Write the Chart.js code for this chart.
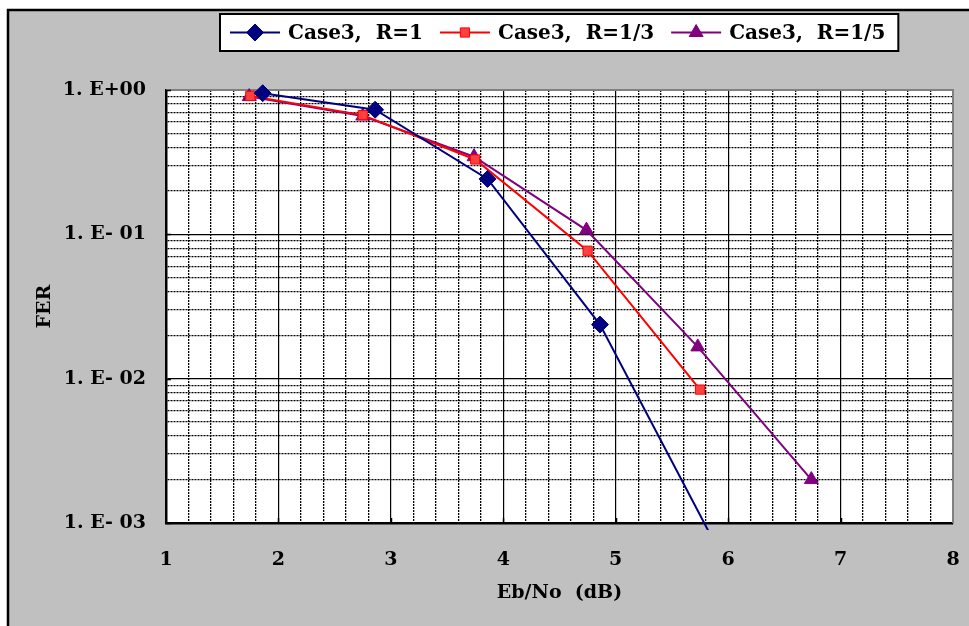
<!DOCTYPE html>
<html>
<head>
<meta charset="utf-8">
<title>FER vs Eb/No</title>
<script src="https://cdn.jsdelivr.net/npm/chart.js"></script>
<style>
  html, body { margin: 0; padding: 0; background: #fff; }
  #wrap { width: 969px; height: 626px; position: relative; }
</style>
</head>
<body>
<div id="wrap"><canvas id="ferChart"></canvas></div>
<script>
// Eb/No (dB) of each measured point
const ebnoR1 = [1.86, 2.86, 3.86, 4.86, 5.86];
const ebnoR13 = [1.75, 2.75, 3.75, 4.75, 5.75];
const ebnoR15 = [1.74, 2.75, 3.74, 4.74, 5.73, 6.74];

// FER
const ferR1 = [0.95, 0.73, 0.242, 0.0237, 0.00078];
const ferR13 = [0.91, 0.67, 0.33, 0.077, 0.0084];
const ferR15 = [0.90, 0.66, 0.345, 0.107, 0.0166, 0.0020];

const seriesLabels = ['Case3,  R=1', 'Case3,  R=1/3', 'Case3,  R=1/5'];

// axis ticks
const xMin = 1, xMax = 8, xMinorStep = 0.2;
const yDecades = [1, 0.1, 0.01, 0.001];
const yDecadeLabels = ['1. E+00', '1. E- 01', '1. E- 02', '1. E- 03'];
const yMantissas = [1, 2, 3, 4, 5, 6, 7, 8, 9];

const FONT = '"DejaVu Serif", "Liberation Serif", serif';
Chart.defaults.font.family = FONT;
Chart.defaults.color = '#000';

const toPoints = (xs, ys) => xs.map((x, i) => ({ x: x, y: ys[i] }));

const isDecade = v => Math.abs(Math.log10(v) - Math.round(Math.log10(v))) < 1e-9;
const isWhole = v => Math.abs(v - Math.round(v)) < 1e-9;

// background, frame, plot border and the boxed legend
const framePlugin = {
  id: 'frame',
  beforeDraw(chart) {
    const { ctx, width, height, chartArea: a } = chart;
    ctx.save();
    ctx.fillStyle = '#fff';
    ctx.fillRect(0, 0, width, height);
    ctx.fillStyle = '#c0c0c0';
    ctx.fillRect(8, 10, width - 8, height - 10);
    ctx.strokeStyle = '#000';
    ctx.lineWidth = 2.5;
    ctx.beginPath();
    ctx.moveTo(width, 10);
    ctx.lineTo(8, 10);
    ctx.lineTo(8, height);
    ctx.stroke();
    ctx.fillStyle = '#fff';
    ctx.fillRect(a.left, a.top, a.right - a.left, a.bottom - a.top);
    ctx.restore();
  },
  beforeDatasetsDraw(chart) {
    const { ctx, chartArea: a } = chart;
    ctx.save();
    ctx.strokeStyle = '#808080';
    ctx.lineWidth = 2;
    ctx.beginPath();
    ctx.moveTo(a.left, a.top);
    ctx.lineTo(a.right, a.top);
    ctx.lineTo(a.right, a.bottom);
    ctx.stroke();
    // small inward tick marks on the axes, like the original
    ctx.strokeStyle = '#000';
    ctx.lineWidth = 1.5;
    const xs = chart.scales.x, ys = chart.scales.y;
    ctx.beginPath();
    for (let v = xMin + 1; v < xMax; v++) {
      const px = Math.round(xs.getPixelForValue(v)) + 0.5;
      ctx.moveTo(px, a.bottom);
      ctx.lineTo(px, a.bottom - 5);
    }
    yDecades.forEach(d => {
      const py = Math.round(ys.getPixelForValue(d)) + 0.5;
      ctx.moveTo(a.left, py);
      ctx.lineTo(a.left + 5, py);
    });
    ctx.stroke();
    ctx.restore();
  },
  afterDraw(chart) {
    const { ctx, chartArea: a } = chart;
    const sets = chart.data.datasets;
    const lineLen = 50, gap = 8, itemGap = 17, padL = 10, padR = 13;
    ctx.save();
    ctx.font = 'bold 20px ' + FONT;
    const widths = sets.map(ds => ctx.measureText(ds.label).width);
    let total = padL + padR + itemGap * (sets.length - 1);
    widths.forEach(w => { total += lineLen + gap + w; });
    const boxX = Math.round((a.left + a.right) / 2 - total / 2);
    const boxY = 14, boxH = 37;
    const cy = boxY + boxH / 2;
    ctx.fillStyle = '#fff';
    ctx.fillRect(boxX, boxY, total, boxH);
    ctx.strokeStyle = '#000';
    ctx.lineWidth = 2;
    ctx.strokeRect(boxX, boxY, total, boxH);

    let x = boxX + padL;
    sets.forEach((ds, i) => {
      ctx.strokeStyle = ds.borderColor;
      ctx.lineWidth = ds.borderWidth;
      ctx.beginPath();
      ctx.moveTo(x, cy);
      ctx.lineTo(x + lineLen, cy);
      ctx.stroke();
      ctx.fillStyle = ds.pointBackgroundColor;
      ctx.strokeStyle = ds.pointBorderColor;
      ctx.lineWidth = 1;
      Chart.helpers.drawPoint(ctx, {
        pointStyle: ds.pointStyle, radius: ds.pointRadius, rotation: 0, borderWidth: 1
      }, x + lineLen / 2, cy);
      ctx.fillStyle = '#000';
      ctx.textBaseline = 'middle';
      ctx.textAlign = 'left';
      ctx.fillText(ds.label, x + lineLen + gap, cy + 1);
      x += lineLen + gap + widths[i] + itemGap;
    });
    ctx.restore();
  }
};

const ctx = document.getElementById('ferChart');
new Chart(ctx, {
  type: 'line',
  data: {
    datasets: [
      {
        label: seriesLabels[0],
        data: toPoints(ebnoR1, ferR1),
        borderColor: '#000080',
        pointBackgroundColor: '#000080',
        pointBorderColor: '#000080',
        pointStyle: 'rectRot',
        pointRadius: 8.5,
        borderWidth: 2,
        clip: { left: 0, top: 8, right: 0, bottom: 7 }
      },
      {
        label: seriesLabels[1],
        data: toPoints(ebnoR13, ferR13),
        borderColor: '#ff0000',
        pointBackgroundColor: '#ff4040',
        pointBorderColor: '#ff0000',
        pointStyle: 'rect',
        pointRadius: 6.5,
        borderWidth: 2,
        clip: 8
      },
      {
        label: seriesLabels[2],
        data: toPoints(ebnoR15, ferR15),
        borderColor: '#800080',
        pointBackgroundColor: '#800080',
        pointBorderColor: '#800080',
        pointStyle: 'triangle',
        pointRadius: 8,
        borderWidth: 2,
        clip: 8
      }
    ]
  },
  options: {
    responsive: true,
    maintainAspectRatio: false,
    animation: false,
    devicePixelRatio: 1,
    layout: { padding: { left: 0, top: 90, right: 16, bottom: 0 } },
    elements: {
      line: { tension: 0 },
      point: { pointBorderWidth: 1, hoverRadius: 8 }
    },
    plugins: {
      legend: { display: false },
      tooltip: { enabled: false }
    },
    scales: {
      x: {
        type: 'linear',
        min: xMin,
        max: xMax,
        afterBuildTicks(scale) {
          const t = [];
          const n = Math.round((xMax - xMin) / xMinorStep);
          for (let i = 0; i <= n; i++) t.push({ value: +(xMin + i * xMinorStep).toFixed(4) });
          scale.ticks = t;
        },
        afterFit(scale) {
          scale.height = 103;
          scale.paddingLeft = 0;
          scale.paddingRight = 0;
        },
        ticks: {
          autoSkip: false,
          maxRotation: 0,
          padding: 26,
          font: { size: 19, weight: 'bold' },
          callback: v => (isWhole(v) ? String(Math.round(v)) : '')
        },
        grid: {
          drawTicks: false,
          color: '#000',
          lineWidth: c => (c.tick && !isWhole(c.tick.value) ? 1.3 : 1.2)
        },
        border: {
          display: true,
          color: '#000',
          width: 2.5,
          dash: c => (c.tick && !isWhole(c.tick.value) ? [2, 1] : [])
        },
        title: {
          display: true,
          text: 'Eb/No  (dB)',
          font: { size: 19, weight: 'bold' },
          padding: { top: 0, bottom: 22 }
        }
      },
      y: {
        type: 'logarithmic',
        min: 0.001,
        max: 1,
        afterBuildTicks(scale) {
          const t = [];
          yDecades.slice(1).forEach(d => {
            yMantissas.forEach(m => t.push({ value: +(d * m).toPrecision(6) }));
          });
          t.push({ value: yDecades[0] });
          scale.ticks = t;
        },
        afterFit(scale) {
          scale.width = 166;
          scale.paddingTop = 0;
          scale.paddingBottom = 0;
        },
        ticks: {
          autoSkip: false,
          padding: 20,
          font: { size: 19, weight: 'bold' },
          callback: v => {
            const i = yDecades.findIndex(d => Math.abs(d - v) < d * 1e-6);
            return i >= 0 ? yDecadeLabels[i] : '';
          }
        },
        grid: {
          drawTicks: false,
          color: '#000',
          lineWidth: c => (c.tick && !isDecade(c.tick.value) ? 1.3 : 1.2)
        },
        border: {
          display: true,
          color: '#000',
          width: 2.5,
          dash: c => (c.tick && !isDecade(c.tick.value) ? [2, 1] : [])
        },
        title: {
          display: true,
          text: 'FER',
          font: { size: 19, weight: 'bold' },
          padding: { top: 34, bottom: 0 }
        }
      }
    }
  },
  plugins: [framePlugin]
});
</script>
</body>
</html>
